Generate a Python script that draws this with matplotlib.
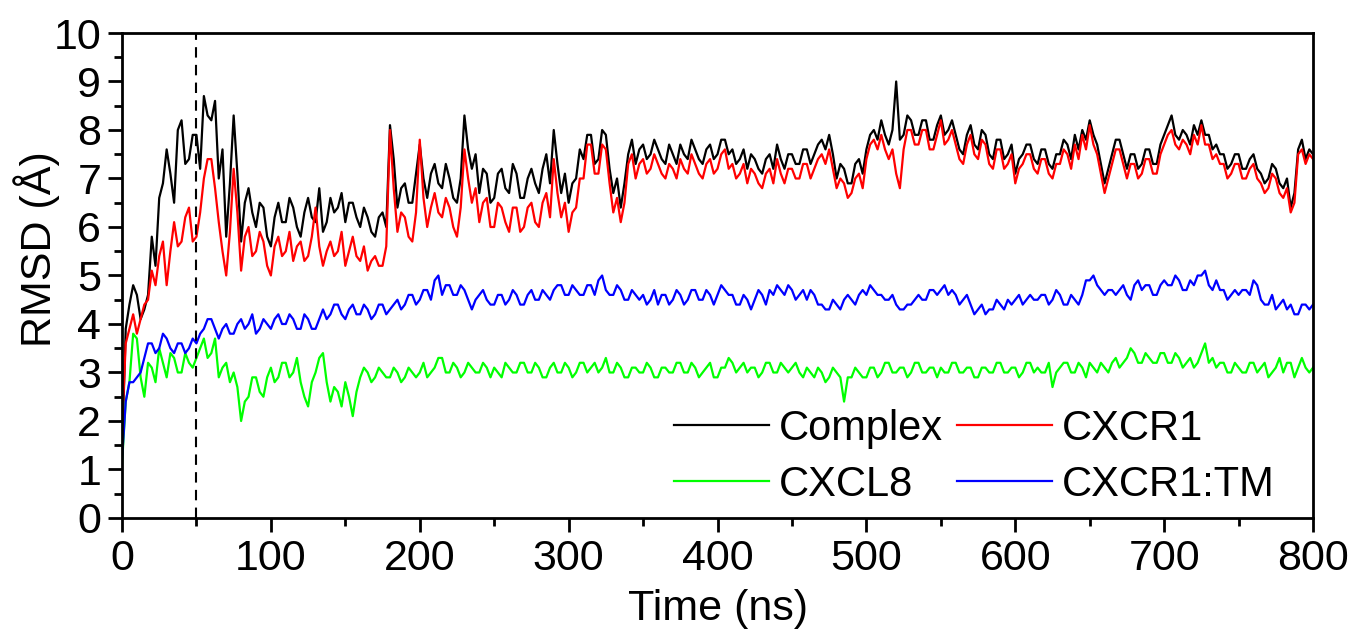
import matplotlib
matplotlib.use("Agg")
import matplotlib.pyplot as plt
from matplotlib.ticker import MultipleLocator
import numpy as np

plt.rcParams['font.family'] = ['Liberation Sans', 'DejaVu Sans']

# time axis, one value every 2.5 ns (each row below = 50 ns)
time_ns = np.arange(0, 800.1, 2.5)

complex_rmsd = [
    1.3, 3.9, 4.4, 4.8, 4.6, 4.1, 4.3, 4.6, 5.8, 5.2, 6.6, 6.9, 7.6, 7.1, 6.5, 8.0, 8.2, 7.3, 7.4, 7.9,
    7.9, 7.2, 8.7, 8.3, 8.2, 8.6, 7.0, 7.6, 5.8, 6.9, 8.3, 7.1, 5.7, 6.5, 6.8, 6.3, 6.0, 6.5, 6.4, 5.8,
    5.6, 6.2, 6.5, 6.1, 6.1, 6.6, 6.4, 6.0, 5.8, 6.3, 6.6, 6.2, 6.1, 6.8, 5.9, 6.1, 6.6, 6.3, 6.4, 6.7,
    6.1, 6.5, 6.5, 6.2, 6.0, 6.4, 6.2, 5.9, 5.8, 6.2, 6.3, 6.0, 8.1, 7.4, 6.4, 6.8, 6.9, 6.5, 6.5, 7.1,
    7.7, 7.0, 6.6, 7.1, 7.3, 6.9, 6.8, 7.3, 7.0, 6.6, 6.5, 7.0, 8.3, 7.6, 7.2, 7.5, 6.7, 7.2, 7.1, 6.5,
    6.6, 7.1, 7.2, 6.8, 6.7, 7.3, 7.1, 6.6, 6.6, 7.0, 7.2, 6.9, 6.7, 7.2, 7.5, 6.9, 8.0, 7.3, 6.7, 7.1,
    6.5, 6.9, 7.0, 7.6, 7.4, 7.9, 7.9, 7.3, 7.4, 8.0, 7.9, 7.2, 6.7, 7.0, 6.4, 6.9, 7.5, 7.8, 7.3, 7.6,
    7.7, 7.4, 7.5, 7.8, 7.6, 7.4, 7.3, 7.7, 7.5, 7.3, 7.7, 7.5, 7.4, 7.8, 7.6, 7.4, 7.3, 7.6, 7.7, 7.4,
    7.5, 7.8, 7.8, 7.5, 7.6, 7.3, 7.4, 7.6, 7.2, 7.5, 7.4, 7.2, 7.1, 7.4, 7.5, 7.2, 7.7, 7.4, 7.2, 7.5,
    7.5, 7.3, 7.3, 7.6, 7.6, 7.3, 7.5, 7.7, 7.8, 7.6, 7.9, 7.5, 7.0, 7.3, 7.2, 6.9, 6.9, 7.3, 7.4, 7.1,
    7.6, 7.9, 8.0, 7.8, 8.2, 7.9, 7.7, 8.0, 9.0, 7.8, 7.9, 8.3, 8.2, 7.9, 7.9, 8.2, 8.2, 7.8, 7.8, 8.1,
    8.3, 7.9, 8.0, 8.2, 7.9, 7.6, 7.5, 7.9, 8.1, 7.7, 7.6, 8.0, 7.9, 7.5, 7.4, 7.8, 7.8, 7.4, 7.5, 7.7,
    7.1, 7.4, 7.5, 7.7, 7.7, 7.4, 7.3, 7.6, 7.6, 7.3, 7.2, 7.5, 7.5, 7.8, 7.7, 7.4, 7.9, 7.6, 8.0, 7.8,
    8.2, 7.9, 7.7, 7.3, 6.9, 7.2, 7.5, 7.8, 7.8, 7.5, 7.2, 7.5, 7.5, 7.2, 7.3, 7.6, 7.6, 7.3, 7.3, 7.7,
    7.9, 8.1, 8.3, 7.9, 7.8, 8.0, 7.9, 7.7, 8.1, 7.9, 8.2, 7.9, 7.9, 7.6, 7.7, 7.5, 7.5, 7.2, 7.3, 7.5,
    7.5, 7.2, 7.2, 7.4, 7.5, 7.2, 7.1, 6.9, 7.0, 7.3, 7.2, 6.9, 6.8, 7.0, 6.4, 6.7, 7.6, 7.8, 7.4, 7.6,
    7.5]

cxcr1_rmsd = [
    1.8, 3.6, 3.9, 4.2, 3.8, 4.1, 4.4, 4.5, 5.1, 4.8, 5.4, 5.7, 4.8, 5.5, 6.1, 5.6, 5.7, 6.2, 6.4, 5.7,
    5.8, 6.3, 7.0, 7.4, 7.4, 6.8, 6.1, 5.5, 5.0, 5.9, 7.2, 6.3, 5.1, 5.8, 6.0, 5.4, 5.5, 5.9, 5.7, 5.2,
    5.0, 5.6, 5.8, 5.4, 5.5, 5.9, 5.3, 5.6, 5.7, 5.3, 5.4, 5.8, 6.4, 5.6, 5.2, 5.5, 5.7, 5.4, 5.5, 5.9,
    5.2, 5.5, 5.8, 5.4, 5.3, 5.6, 5.1, 5.3, 5.4, 5.2, 5.2, 5.6, 8.0, 6.8, 5.9, 6.3, 6.2, 5.8, 5.7, 6.3,
    7.8, 6.6, 6.0, 6.4, 6.7, 6.3, 6.2, 6.6, 6.4, 6.0, 5.8, 6.4, 7.6, 7.0, 6.5, 6.8, 6.1, 6.5, 6.6, 6.0,
    6.0, 6.5, 6.4, 6.1, 5.9, 6.4, 6.4, 5.9, 6.0, 6.4, 6.5, 6.1, 6.0, 6.5, 6.7, 6.2, 7.4, 6.7, 6.2, 6.5,
    5.9, 6.3, 6.4, 7.0, 7.0, 7.7, 7.7, 7.1, 7.1, 7.7, 7.6, 6.9, 6.3, 6.6, 6.1, 6.5, 7.3, 7.5, 7.0, 7.3,
    7.4, 7.1, 7.2, 7.5, 7.3, 7.1, 7.0, 7.3, 7.2, 7.0, 7.4, 7.2, 7.1, 7.5, 7.3, 7.1, 7.0, 7.3, 7.4, 7.1,
    7.2, 7.5, 7.6, 7.2, 7.3, 7.0, 7.1, 7.3, 6.9, 7.2, 7.1, 6.9, 6.8, 7.1, 7.2, 6.9, 7.4, 7.1, 6.9, 7.2,
    7.2, 7.0, 7.0, 7.3, 7.3, 7.0, 7.2, 7.4, 7.5, 7.3, 7.6, 7.2, 6.8, 7.0, 6.9, 6.6, 6.7, 7.0, 7.1, 6.8,
    7.4, 7.7, 7.8, 7.6, 7.9, 7.6, 7.4, 7.6, 7.1, 6.8, 7.6, 8.0, 8.0, 7.7, 7.7, 8.0, 8.0, 7.6, 7.6, 7.9,
    8.2, 7.7, 7.8, 8.0, 7.7, 7.4, 7.3, 7.7, 7.9, 7.5, 7.4, 7.8, 7.7, 7.3, 7.2, 7.6, 7.6, 7.2, 7.3, 7.5,
    6.9, 7.2, 7.3, 7.5, 7.5, 7.2, 7.1, 7.4, 7.4, 7.1, 7.0, 7.3, 7.3, 7.6, 7.5, 7.2, 7.7, 7.4, 7.9, 7.6,
    8.1, 7.7, 7.5, 7.1, 6.7, 7.0, 7.3, 7.6, 7.6, 7.3, 7.0, 7.3, 7.3, 7.0, 7.1, 7.4, 7.4, 7.1, 7.1, 7.5,
    7.7, 7.9, 8.0, 7.7, 7.6, 7.8, 7.7, 7.5, 7.9, 7.7, 8.1, 7.7, 7.7, 7.4, 7.5, 7.3, 7.3, 7.0, 7.1, 7.3,
    7.3, 7.0, 7.0, 7.2, 7.3, 7.0, 6.9, 6.7, 6.8, 7.1, 7.0, 6.7, 6.6, 6.8, 6.3, 6.5, 7.5, 7.6, 7.3, 7.5,
    7.4]

cxcl8_rmsd = [
    1.1, 2.4, 2.8, 3.8, 3.7, 2.9, 2.5, 3.2, 3.1, 2.8, 3.5, 3.2, 2.9, 3.4, 3.3, 3.0, 3.0, 3.4, 3.2, 3.1,
    3.3, 3.5, 3.7, 3.3, 3.4, 3.7, 2.9, 3.1, 3.2, 2.8, 3.0, 2.7, 2.0, 2.4, 2.5, 2.9, 2.9, 2.6, 2.5, 2.9,
    3.1, 2.8, 2.9, 3.2, 3.2, 2.9, 3.0, 3.3, 2.8, 2.5, 2.3, 2.8, 3.0, 3.3, 3.4, 2.8, 2.4, 2.7, 2.6, 2.3,
    2.8, 2.5, 2.1, 2.6, 2.9, 3.1, 3.0, 2.8, 2.9, 3.1, 3.0, 2.9, 2.9, 3.1, 3.0, 2.8, 2.9, 3.1, 3.0, 2.9,
    3.0, 3.2, 2.9, 3.0, 3.1, 3.3, 3.3, 3.0, 3.0, 3.2, 3.1, 2.9, 3.0, 3.2, 3.1, 3.0, 3.0, 3.2, 3.1, 2.9,
    3.1, 3.0, 2.9, 3.2, 3.1, 3.0, 3.0, 3.2, 3.2, 3.0, 3.0, 3.2, 3.1, 2.9, 2.9, 3.1, 3.2, 3.0, 3.0, 3.2,
    3.1, 2.9, 3.0, 3.2, 3.2, 3.0, 3.1, 3.2, 3.0, 3.1, 3.3, 3.0, 3.0, 3.2, 3.1, 2.9, 2.9, 3.1, 3.1, 3.0,
    3.0, 3.2, 3.1, 2.9, 2.9, 3.1, 3.1, 3.0, 3.0, 3.2, 3.2, 3.0, 3.0, 3.2, 3.1, 2.9, 3.0, 3.1, 3.2, 2.9,
    2.9, 3.1, 3.1, 3.3, 3.2, 3.0, 3.1, 3.2, 3.0, 3.1, 3.1, 2.9, 3.0, 3.2, 3.2, 3.0, 3.0, 3.2, 3.1, 3.0,
    3.1, 3.2, 3.0, 2.9, 3.1, 3.0, 2.9, 3.1, 3.0, 2.8, 2.9, 3.1, 3.0, 2.9, 2.4, 2.9, 2.9, 3.1, 3.0, 2.9,
    2.9, 3.1, 3.1, 2.9, 3.0, 3.2, 3.2, 3.0, 3.0, 3.1, 3.1, 2.9, 3.0, 3.2, 3.2, 3.0, 3.0, 3.1, 3.1, 2.9,
    3.1, 3.0, 3.0, 3.2, 3.2, 3.0, 3.0, 3.1, 3.1, 2.9, 2.9, 3.1, 3.1, 3.0, 3.0, 3.2, 3.2, 3.0, 3.0, 3.1,
    3.1, 2.9, 3.0, 3.2, 3.2, 3.0, 3.1, 3.0, 3.0, 3.2, 2.7, 3.0, 3.1, 3.2, 3.2, 3.0, 3.0, 3.2, 3.1, 2.9,
    3.2, 3.1, 3.0, 3.2, 3.1, 3.0, 3.2, 3.3, 3.1, 3.2, 3.3, 3.5, 3.4, 3.2, 3.2, 3.4, 3.3, 3.2, 3.2, 3.4,
    3.4, 3.2, 3.2, 3.4, 3.3, 3.1, 3.2, 3.3, 3.1, 3.2, 3.4, 3.6, 3.2, 3.3, 3.1, 3.2, 3.2, 3.0, 3.0, 3.2,
    3.1, 3.0, 3.0, 3.2, 3.2, 3.0, 3.1, 3.2, 2.9, 3.0, 3.1, 3.3, 3.0, 3.2, 3.2, 2.9, 3.1, 3.3, 3.1, 3.0,
    3.1]

cxcr1_tm_rmsd = [
    1.2, 2.4, 2.8, 2.8, 2.9, 3.0, 3.3, 3.6, 3.6, 3.4, 3.5, 3.8, 3.7, 3.5, 3.4, 3.6, 3.6, 3.4, 3.5, 3.7,
    3.6, 3.8, 3.9, 4.1, 4.1, 3.9, 3.7, 3.9, 4.0, 3.8, 3.8, 4.0, 4.1, 3.9, 4.0, 4.2, 3.8, 3.9, 4.1, 4.0,
    3.9, 4.1, 4.2, 4.0, 4.0, 4.2, 4.1, 3.9, 3.9, 4.2, 4.1, 3.9, 3.9, 4.1, 4.3, 4.1, 4.2, 4.4, 4.4, 4.2,
    4.1, 4.3, 4.4, 4.2, 4.2, 4.4, 4.3, 4.1, 4.2, 4.4, 4.4, 4.2, 4.3, 4.4, 4.5, 4.3, 4.4, 4.6, 4.6, 4.4,
    4.5, 4.7, 4.7, 4.5, 4.9, 5.0, 4.6, 4.8, 4.8, 4.6, 4.6, 4.8, 4.7, 4.5, 4.3, 4.5, 4.6, 4.7, 4.5, 4.4,
    4.4, 4.6, 4.6, 4.4, 4.5, 4.7, 4.6, 4.4, 4.4, 4.6, 4.7, 4.5, 4.5, 4.7, 4.6, 4.5, 4.7, 4.8, 4.8, 4.6,
    4.6, 4.8, 4.7, 4.6, 4.6, 4.8, 4.8, 4.6, 4.9, 5.0, 4.7, 4.6, 4.6, 4.8, 4.7, 4.5, 4.5, 4.7, 4.6, 4.5,
    4.6, 4.4, 4.5, 4.7, 4.4, 4.6, 4.6, 4.4, 4.5, 4.7, 4.6, 4.4, 4.5, 4.7, 4.7, 4.5, 4.5, 4.7, 4.6, 4.4,
    4.6, 4.8, 4.7, 4.6, 4.6, 4.4, 4.4, 4.6, 4.5, 4.3, 4.5, 4.7, 4.6, 4.4, 4.7, 4.6, 4.8, 4.7, 4.6, 4.8,
    4.7, 4.5, 4.6, 4.7, 4.5, 4.7, 4.6, 4.4, 4.4, 4.3, 4.3, 4.5, 4.4, 4.3, 4.5, 4.6, 4.5, 4.4, 4.6, 4.7,
    4.6, 4.8, 4.7, 4.6, 4.6, 4.5, 4.5, 4.6, 4.4, 4.3, 4.3, 4.4, 4.4, 4.5, 4.6, 4.5, 4.5, 4.7, 4.7, 4.6,
    4.7, 4.8, 4.6, 4.7, 4.6, 4.4, 4.5, 4.6, 4.4, 4.2, 4.3, 4.4, 4.2, 4.3, 4.3, 4.5, 4.4, 4.3, 4.5, 4.4,
    4.5, 4.6, 4.4, 4.5, 4.6, 4.5, 4.5, 4.6, 4.6, 4.4, 4.5, 4.7, 4.6, 4.4, 4.4, 4.6, 4.5, 4.4, 4.6, 4.9,
    4.9, 5.0, 4.8, 4.7, 4.6, 4.7, 4.7, 4.6, 4.7, 4.8, 4.6, 4.5, 4.8, 4.9, 4.7, 4.8, 4.8, 4.6, 4.6, 4.8,
    4.9, 4.8, 4.8, 5.0, 4.9, 4.7, 4.7, 4.9, 4.8, 5.0, 5.0, 5.1, 4.8, 4.7, 4.9, 4.7, 4.7, 4.5, 4.6, 4.7,
    4.6, 4.7, 4.7, 4.6, 4.9, 4.8, 4.5, 4.4, 4.4, 4.6, 4.3, 4.4, 4.5, 4.3, 4.4, 4.2, 4.2, 4.4, 4.4, 4.3,
    4.4]

equil_time = 50

fig = plt.figure(figsize=(13.51, 6.31), dpi=100)
ax = fig.add_axes([0.0903, 0.1791, 0.8816, 0.7686])

ax.plot(time_ns, complex_rmsd, color='black', lw=1.6, label='Complex')
ax.plot(time_ns, cxcr1_rmsd, color='#ff0000', lw=1.6, label='CXCR1')
ax.plot(time_ns, cxcl8_rmsd, color='#00ff00', lw=1.6, label='CXCL8')
ax.plot(time_ns, cxcr1_tm_rmsd, color='#0000ff', lw=1.6, label='CXCR1:TM')
ax.axvline(equil_time, color='black', ls=(0, (5, 3.5)), lw=1.5)

ax.set_xlim(0, 800)
ax.set_ylim(0, 10)
ax.xaxis.set_major_locator(MultipleLocator(100))
ax.xaxis.set_minor_locator(MultipleLocator(50))
ax.yaxis.set_major_locator(MultipleLocator(1))
ax.yaxis.set_minor_locator(MultipleLocator(0.5))
ax.tick_params(which='major', direction='out', length=10, width=2, labelsize=31, pad=5)
ax.tick_params(which='minor', direction='out', length=5.5, width=2)
for s in ax.spines.values():
    s.set_linewidth(2)

ax.set_xlabel('Time (ns)', fontsize=31, labelpad=7)
ax.set_ylabel('RMSD (Å)', fontsize=31)
ax.yaxis.set_label_coords(-0.052, 0.555)

# legend rows: Complex | CXCR1  /  CXCL8 | CXCR1:TM
h, l = ax.get_legend_handles_labels()
order = [0, 2, 1, 3]
ax.legend([h[i] for i in order], [l[i] for i in order], ncol=2, frameon=False,
          loc='lower right', bbox_to_anchor=(0.968, 0.027), fontsize=30,
          handlelength=2.28, handletextpad=0.24, columnspacing=0.34,
          labelspacing=0.38, borderpad=0, borderaxespad=0)

plt.savefig('out.png', dpi=100)
